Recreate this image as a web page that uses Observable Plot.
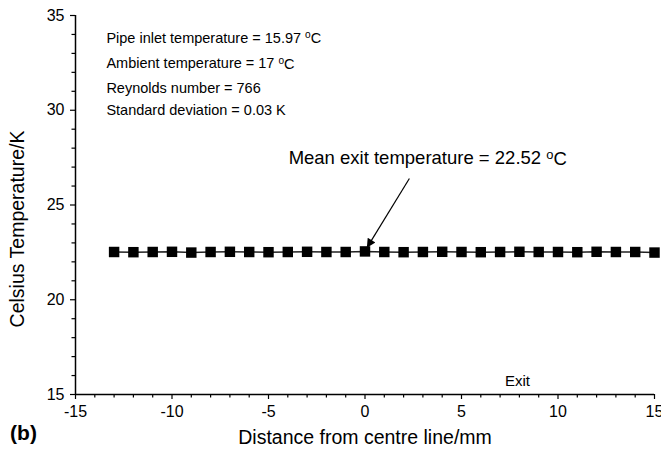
<!DOCTYPE html>
<html>
<head>
<meta charset="utf-8">
<script src="https://cdn.jsdelivr.net/npm/d3@7"></script>
<script src="https://cdn.jsdelivr.net/npm/@observablehq/plot@0.6"></script>
<style>
  html, body { margin: 0; padding: 0; background: #fff; }
</style>
</head>
<body>
<div id="chart"></div>
<script>
// ---- data ----
const positions = [-13, -12, -11, -10, -9, -8, -7, -6, -5, -4, -3, -2, -1, 0, 1, 2, 3, 4, 5, 6, 7, 8, 9, 10, 11, 12, 13, 14, 15];
const temperatures = [22.52, 22.51, 22.52, 22.53, 22.49, 22.52, 22.53, 22.52, 22.51, 22.52, 22.53, 22.52, 22.52, 22.55,
                      22.52, 22.51, 22.52, 22.53, 22.52, 22.51, 22.52, 22.53, 22.52, 22.52, 22.51, 22.53, 22.52, 22.52, 22.49];
const xTicksMajor = [-15, -10, -5, 0, 5, 10, 15];
const xTicksMinor = [-14, -13, -12, -11, -9, -8, -7, -6, -4, -3, -2, -1, 1, 2, 3, 4, 6, 7, 8, 9, 11, 12, 13, 14];
const yTicksMajor = [15, 20, 25, 30, 35];
const yTicksMinor = [16, 17, 18, 19, 21, 22, 23, 24, 26, 27, 28, 29, 31, 32, 33, 34];
const infoLines = [
  {text: "Pipe inlet temperature = 15.97 °C", x: -13.4, y: 33.8},
  {text: "Ambient temperature = 17 °C", x: -13.4, y: 32.45},
  {text: "Reynolds number = 766", x: -13.4, y: 31.15},
  {text: "Standard deviation = 0.03 K", x: -13.4, y: 30.0}
];
const meanLabel = [{text: "Mean exit temperature = 22.52 °C", x: 3.25, y: 27.45}];
const exitLabel = [{text: "Exit", x: 7.9, y: 15.7}];
const arrowData = [{x1: 2.3, y1: 26.4, x2: 0.12, y2: 22.78}];
const xLabel = "Distance from centre line/mm";
const yLabel = "Celsius Temperature/K";
const panelLabel = "(b)";

const rows = positions.map((p, i) => ({x: p, y: temperatures[i]}));
const fmt = d => `${d}`;

const plot = Plot.plot({
  width: 661,
  height: 450,
  marginLeft: 75,
  marginRight: 7,
  marginTop: 15,
  marginBottom: 56,
  x: {domain: [-15, 15]},
  y: {domain: [15, 35]},
  style: {fontFamily: "'Liberation Sans', Arial, sans-serif", fontSize: "16px", background: "#fff", color: "#000", overflow: "visible"},
  marks: [
    Plot.axisX({ticks: xTicksMinor, tickSize: 3.5, tickFormat: () => "", label: null, strokeWidth: 1.2}),
    Plot.axisX({ticks: xTicksMajor, tickSize: 5, tickPadding: 6, tickFormat: fmt, label: null, fontSize: 16, strokeWidth: 1.2}),
    Plot.axisY({ticks: yTicksMinor, tickSize: 3.5, tickFormat: () => "", label: null, strokeWidth: 1.2}),
    Plot.axisY({ticks: yTicksMajor, tickSize: 5, tickPadding: 6, tickFormat: fmt, label: null, fontSize: 16, strokeWidth: 1.2}),
    Plot.ruleY([15], {stroke: "#000", strokeWidth: 1.5}),
    Plot.ruleX([-15], {stroke: "#000", strokeWidth: 1.5}),
    Plot.line(rows, {x: "x", y: "y", stroke: "#222", strokeWidth: 1.5}),
    Plot.dot(rows, {x: "x", y: "y", symbol: "square", r: 5.9, fill: "#000", stroke: "none"}),
    Plot.link(arrowData, {x1: "x1", y1: "y1", x2: "x2", y2: "y2", stroke: "#000", strokeWidth: 1.2, ariaLabel: "arrowlink"}),
    Plot.text(infoLines, {x: "x", y: "y", text: "text", textAnchor: "start", lineAnchor: "middle", fontSize: 14.5, fill: "#000"}),
    Plot.text(meanLabel, {x: "x", y: "y", text: "text", textAnchor: "middle", lineAnchor: "middle", fontSize: 18.5, fill: "#000"}),
    Plot.text(exitLabel, {x: "x", y: "y", text: "text", textAnchor: "middle", lineAnchor: "middle", fontSize: 15, fill: "#000"}),
    Plot.text([xLabel], {frameAnchor: "bottom", dy: 43, textAnchor: "middle", lineAnchor: "middle", fontSize: 19.5, fill: "#000"}),
    Plot.text([yLabel], {frameAnchor: "left", dx: -58, dy: 24, rotate: -90, textAnchor: "middle", lineAnchor: "middle", fontSize: 19.5, fill: "#000"}),
    Plot.text([panelLabel], {frameAnchor: "bottom-left", dx: -52, dy: 39, textAnchor: "middle", lineAnchor: "middle", fontSize: 21, fontWeight: "bold", fill: "#000"})
  ]
});

// filled arrow head on the link
const svgNS = "http://www.w3.org/2000/svg";
const svg = plot.tagName.toLowerCase() === "svg" ? plot : plot.querySelector("svg");
const defs = document.createElementNS(svgNS, "defs");
const marker = document.createElementNS(svgNS, "marker");
marker.setAttribute("id", "filled-arrow");
marker.setAttribute("viewBox", "0 0 10 10");
marker.setAttribute("refX", "9");
marker.setAttribute("refY", "5");
marker.setAttribute("markerWidth", "11");
marker.setAttribute("markerHeight", "9");
marker.setAttribute("markerUnits", "userSpaceOnUse");
marker.setAttribute("orient", "auto");
const head = document.createElementNS(svgNS, "path");
head.setAttribute("d", "M0,0L10,5L0,10z");
head.setAttribute("fill", "#000");
marker.appendChild(head);
defs.appendChild(marker);
svg.insertBefore(defs, svg.firstChild);
svg.querySelectorAll('g[aria-label="arrowlink"] path, g[aria-label="link"] path').forEach(p => p.setAttribute("marker-end", "url(#filled-arrow)"));

// superscript "o" for the degree sign
svg.querySelectorAll("text").forEach(t => {
  const s = t.textContent;
  if (s.includes("°C") && t.children.length === 0) {
    const [before, after] = s.split("°C");
    t.textContent = before;
    const sup = document.createElementNS(svgNS, "tspan");
    sup.setAttribute("dy", "-0.45em");
    sup.setAttribute("font-size", "0.7em");
    sup.textContent = "o";
    const c = document.createElementNS(svgNS, "tspan");
    c.setAttribute("dy", "0.32em");
    c.textContent = "C" + (after || "");
    t.appendChild(sup);
    t.appendChild(c);
  }
});

document.getElementById("chart").appendChild(plot);
</script>
</body>
</html>
